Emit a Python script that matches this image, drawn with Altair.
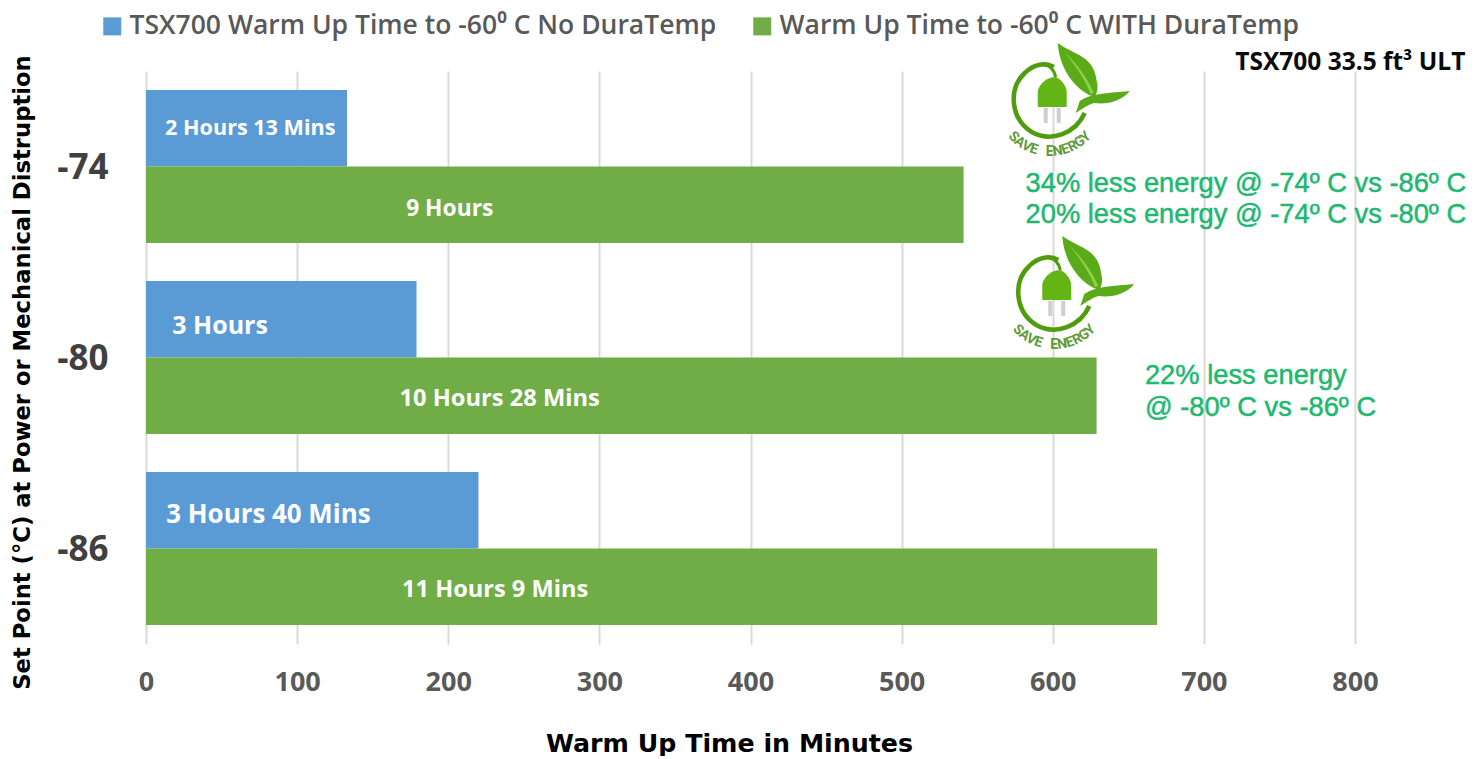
import math
import altair as alt
import pandas as pd

set_points = ["-74", "-80", "-86"]
series = ["TSX700 Warm Up Time to -60⁰ C No DuraTemp", "Warm Up Time to -60⁰ C WITH DuraTemp"]
no_dura = [133, 179, 220]
with_dura = [541, 629, 669]
labels_no = ["2 Hours 13 Mins", "3 Hours", "3 Hours 40 Mins"]
labels_with = ["9 Hours", "10 Hours 28 Mins", "11 Hours 9 Mins"]
label_x_no = [69, 49, 81]
label_x_with = [201, 234, 231]
label_y_no = [58, 255, 444]
label_y_with = [138, 328, 519]
label_size_no = [21.6, 25, 25.9]
label_size_with = [22.8, 23.7, 23.6]
colors = ["#5b9bd5", "#70ad47"]
ticks = [0, 100, 200, 300, 400, 500, 600, 700, 800]

notes = ["TSX700 33.5 ft³  ULT"]
green_notes = ["34% less energy @ -74º C vs -86º C", "20% less energy @ -74º C vs -80º C",
               "22% less energy", "@ -80º C  vs -86º C"]
green_x = [582, 582, 661, 661]
green_y = [113, 144, 305, 337]
logo_x = [598, 601]
logo_y = [30, 223]
logo_text = "SAVE ENERGY"

W, H = 1209, 573
PX = W / 800

rows = []
for i, sp in enumerate(set_points):
    rows.append(dict(sp=sp, s=series[0], v=no_dura[i], lab=labels_no[i], lx=label_x_no[i], ly=label_y_no[i], fs=label_size_no[i]))
    rows.append(dict(sp=sp, s=series[1], v=with_dura[i], lab=labels_with[i], lx=label_x_with[i], ly=label_y_with[i], fs=label_size_with[i]))
df = pd.DataFrame(rows)

y_band = alt.Scale(domain=set_points, paddingInner=0.2, paddingOuter=0.1)
yoff = alt.YOffset("s:N", sort=series, scale=alt.Scale(domain=series))

bars = alt.Chart(df).mark_bar(opacity=1).encode(
    x=alt.X("v:Q", scale=alt.Scale(domain=[0, 800], nice=False), axis=alt.Axis(
        values=ticks, title="Warm Up Time in Minutes", grid=True, gridColor="#d9d9d9", gridWidth=2,
        domain=False, ticks=False, labelPadding=25, labelFont="Open Sans", labelFontSize=27,
        labelFontWeight=700, labelColor="#595959", labelFlush=False,
        titleFont="DejaVu Sans", titleFontSize=25.3, titleFontWeight=700, titleColor="#000000",
        titleX=583, titleY=99, titleBaseline="middle", titleAnchor="start", titleAlign="center")),
    y=alt.Y("sp:N", sort=set_points, scale=y_band, axis=alt.Axis(
        title="Set Point (°C) at Power or Mechanical  Distruption", domain=False, ticks=False, grid=False,
        labelFont="Open Sans", labelFontSize=35, labelFontWeight=700, labelColor="#404040", labelPadding=38,
        labelOffset=1,
        titleFont="DejaVu Sans", titleFontSize=22.7, titleFontWeight=700, titleColor="#000000",
        titleX=-124, titleY=301, titleAnchor="start", titleAlign="center", titleBaseline="middle", labelAngle=0)),
    yOffset=yoff,
    color=alt.Color("s:N", sort=series, scale=alt.Scale(domain=series, range=colors), legend=alt.Legend(
        orient="none", legendX=-47, legendY=-58, direction="horizontal", columns=2, title=None,
        symbolType="square", symbolSize=324, symbolStrokeWidth=0, symbolOpacity=1,
        labelFont="Open Sans", labelFontSize=26.5, labelFontWeight=600, labelColor="#595959",
        labelLimit=700, labelOffset=4, columnPadding=32)),
)

bar_text = alt.Chart(df).mark_text(font="Open Sans", fontWeight=700, color="white", align="center", baseline="middle").encode(
    x=alt.X("lx:Q"),
    y=alt.Y("ly:Q", scale=None, axis=None),
    text="lab:N",
    size=alt.Size("fs:Q", scale=None),
)

title_df = pd.DataFrame(dict(x=[873], y=[-8], t=notes))
title_text = alt.Chart(title_df).mark_text(font="Open Sans", fontWeight=700, fontSize=24.5, color="#0b0b0b", align="right", baseline="middle").encode(
    x="x:Q", y=alt.Y("y:Q", scale=None, axis=None), text="t:N")

green_df = pd.DataFrame(dict(x=green_x, y=green_y, t=green_notes))
green_text = alt.Chart(green_df).mark_text(font="Liberation Sans", fontSize=27.3, color="#1fb871", stroke="#1fb871", strokeWidth=0.5, align="left", baseline="middle").encode(
    x="x:Q", y=alt.Y("y:Q", scale=None, axis=None), text="t:N")

# Save-energy logo: paths are in pixels around the logo's centre (size=4 means unit scale)
logo_df = pd.DataFrame(dict(x=logo_x, y=logo_y))
RING = "M 4 -34 C -4 -39 -16 -37 -25 -28 C -42 -12 -39 18 -18 31 C 2 42 26 32 35 12"
CORD = "M -6 -36 C 0 -36 4 -32 6 -24"
PLUG = "M -12 6 L -12 -10 C -10 -18 -2 -24 6 -24 C 14 -20 16 -14 17 -10 L 17 6 Z"
PRONGS = "M -6 7 L -2 7 L -2 22 L -6 22 Z M 7 7 L 11 7 L 11 22 L 7 22 Z"
LEAF1 = "M 8 -58 C 24 -46 44 -46 47 -20 C 49 -12 47 -8 45 -4 C 30 -8 10 -28 8 -58 Z"
LEAF2 = "M 30 0 C 42 -8 60 -8 80 -10 C 72 0 58 4 44 2 C 38 4 32 8 26 12 Z"
HILITE = "M 14 -50 C 26 -38 36 -26 44 -8 L 41 -7 C 34 -24 24 -38 14 -50 Z"
logo_parts = [
    dict(shape=RING, filled=False, stroke="#4f9c0c", strokeWidth=4.5),
    dict(shape=CORD, filled=False, stroke="#4f9c0c", strokeWidth=3),
    dict(shape=PRONGS, filled=True, fill="#cfcfcf", strokeWidth=0),
    dict(shape=PLUG, filled=True, fill="#62b515", strokeWidth=0),
    dict(shape=LEAF1, filled=True, fill="#5bab18", strokeWidth=0),
    dict(shape=LEAF2, filled=True, fill="#5bab18", strokeWidth=0),
    dict(shape=HILITE, filled=True, fill="#8fd14a", strokeWidth=0),
]
logo_layers = [
    alt.Chart(logo_df).mark_point(size=4, opacity=1, **p).encode(
        x="x:Q", y=alt.Y("y:Q", scale=None, axis=None))
    for p in logo_parts
]

letter_rows = []
for lx, ly in zip(logo_x, logo_y):
    for i, ch in enumerate(logo_text):
        a = math.radians(45 * (1 - i / 5))
        letter_rows.append(dict(x=lx + 51 * math.sin(a) * -1 / PX, y=ly + 51 * math.cos(a),
                                ang=(45 * (1 - i / 5)) % 360, ch=ch))
letters = alt.Chart(pd.DataFrame(letter_rows)).mark_text(
    font="Roboto", fontWeight=700, fontSize=14, color="#5f9a3a", align="center", baseline="middle").encode(
    x="x:Q", y=alt.Y("y:Q", scale=None, axis=None), text="ch:N", angle=alt.Angle("ang:Q", scale=None))

chart = alt.layer(bars, bar_text, title_text, green_text, *logo_layers, letters).resolve_scale(y="independent").properties(
    width=W, height=H, autosize=alt.AutoSizeParams(type="none"), background="white",
    padding={"left": 138, "top": 63, "right": 120, "bottom": 112},
).configure_view(stroke=None)

chart.save("out.html", embed_options={"renderer": "svg", "actions": False})
